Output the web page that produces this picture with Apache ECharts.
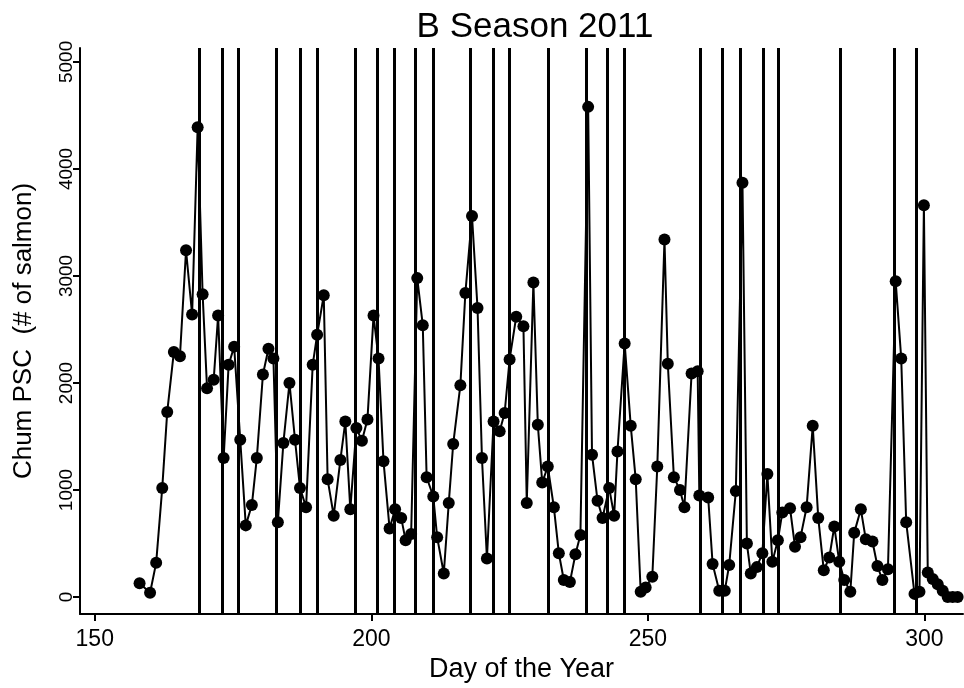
<!DOCTYPE html>
<html>
<head>
<meta charset="utf-8">
<script src="https://cdn.jsdelivr.net/npm/echarts@6/dist/echarts.min.js"></script>
<style>
  html, body { margin: 0; padding: 0; background: #fff; }
  #chart { width: 964px; height: 688px; }
</style>
</head>
<body>
<div id="chart"></div>
<script>
// Day of the year for each PSC observation
const days = [
  158.1,160.0,161.1,162.2,163.1,164.3,165.4,166.5,167.6,168.6,
  169.5,170.3,171.5,172.3,173.3,174.2,175.2,176.3,177.3,178.4,
  179.3,180.4,181.4,182.3,183.1,184.1,185.2,186.2,187.1,188.2,
  189.4,190.2,191.4,192.1,193.2,194.4,195.3,196.2,197.3,198.3,
  199.3,200.4,201.3,202.2,203.3,204.3,205.4,206.2,207.2,208.3,
  209.3,210.0,211.2,211.9,213.1,214.0,214.8,216.1,217.0,218.2,
  219.2,220.0,220.9,222.1,223.2,224.1,225.0,226.2,227.5,228.1,
  229.3,230.1,230.9,231.9,233.0,233.9,234.8,235.9,236.9,237.8,
  239.2,239.9,240.9,241.8,243.0,243.9,244.5,245.8,246.9,247.8,
  248.7,249.6,250.8,251.7,253.0,253.6,254.7,255.8,256.6,257.9,
  259.0,259.3,260.9,261.7,262.9,263.9,264.7,265.9,267.1,267.9,
  268.6,269.7,270.7,271.6,272.5,273.5,274.3,275.7,276.6,277.6,
  278.7,279.8,280.8,281.8,282.8,283.7,284.6,285.5,286.6,287.3,
  288.5,289.4,290.6,291.5,292.4,293.4,294.8,295.8,296.7,298.2,
  299.1,299.9,300.6,301.5,302.4,303.3,304.2,305.1,306.0
];

// Chum salmon PSC (# of salmon)
const chumPSC = [
  130,40,320,1020,1730,2290,2250,3240,2640,4390,
  2830,1950,2030,2630,1300,2170,2340,1470,670,860,
  1300,2080,2320,2230,700,1440,2000,1470,1020,840,
  2170,2450,2820,1100,760,1280,1640,820,1580,1460,
  1660,2630,2230,1270,640,820,740,530,590,2980,
  2540,1120,940,560,220,880,1430,1980,2840,3560,
  2700,1300,360,1640,1550,1720,2220,2620,2530,880,
  2940,1610,1070,1220,840,410,160,140,400,580,
  4580,1330,900,740,1020,760,1360,2370,1600,1100,
  50,90,190,1220,3340,2180,1120,1000,840,2090,
  2110,950,930,310,60,60,300,990,3870,500,
  220,280,410,1150,330,530,790,830,470,560,
  840,1600,740,250,370,660,330,160,50,600,
  820,540,520,290,160,260,2950,2230,700,30,
  50,3660,230,170,120,60,0,0,0
];

// Days marked with vertical reference lines
const markedDays = [
  168.9,173.0,175.9,182.9,187.1,190.2,197.1,201.1,204.2,208.0,
  211.2,217.9,222.0,225.0,232.0,238.9,242.7,245.8,259.5,263.5,
  266.7,270.8,273.6,284.7,294.5,298.6
];

const xTicks = [150, 200, 250, 300];
const yTicks = [0, 1000, 2000, 3000, 4000, 5000];

const FONT = 'Liberation Sans, Arial, sans-serif';
const chart = echarts.init(document.getElementById('chart'), null, { renderer: 'canvas' });

chart.setOption({
  animation: false,
  backgroundColor: '#ffffff',
  title: {
    text: 'B Season 2011',
    left: 530,
    top: 5,
    textAlign: 'center',
    textStyle: { fontFamily: FONT, fontSize: 35, fontWeight: 'normal', color: '#000' }
  },
  grid: { left: 80, right: 1, top: 48, bottom: 71, containLabel: false },
  xAxis: {
    type: 'value',
    min: 147.33,
    max: 306.97,
    name: 'Day of the Year',
    nameLocation: 'middle',
    nameGap: 42,
    nameTextStyle: { fontFamily: FONT, fontSize: 27, color: '#000' },
    axisLine: { show: true, onZero: false, lineStyle: { color: '#000', width: 2 } },
    axisTick: { show: true, customValues: xTicks, length: 7, lineStyle: { color: '#000', width: 2 } },
    axisLabel: { customValues: xTicks, fontFamily: FONT, fontSize: 23, color: '#000', margin: 14 },
    splitLine: { show: false }
  },
  yAxis: {
    type: 'value',
    min: -158,
    max: 5130,
    name: 'Chum PSC  (# of salmon)',
    nameLocation: 'middle',
    nameRotate: 90,
    nameGap: 43,
    nameTextStyle: { fontFamily: FONT, fontSize: 26, color: '#000' },
    axisLine: { show: true, onZero: false, lineStyle: { color: '#000', width: 2 } },
    axisTick: { show: true, customValues: yTicks, length: 7, lineStyle: { color: '#000', width: 2 } },
    axisLabel: {
      customValues: yTicks,
      rotate: 90,
      fontFamily: FONT,
      fontSize: 19,
      color: '#000',
      margin: 4,
      formatter: v => String(v)
    },
    splitLine: { show: false }
  },
  series: [{
    type: 'line',
    data: days.map((d, i) => [d, chumPSC[i]]),
    symbol: 'circle',
    symbolSize: 12,
    showSymbol: true,
    itemStyle: { color: '#000' },
    lineStyle: { color: '#000', width: 2 },
    markLine: {
      silent: true,
      symbol: ['none', 'none'],
      label: { show: false },
      lineStyle: { color: '#000', width: 3, type: 'solid' },
      data: markedDays.map(d => ({ xAxis: d }))
    }
  }]
});
</script>
</body>
</html>
